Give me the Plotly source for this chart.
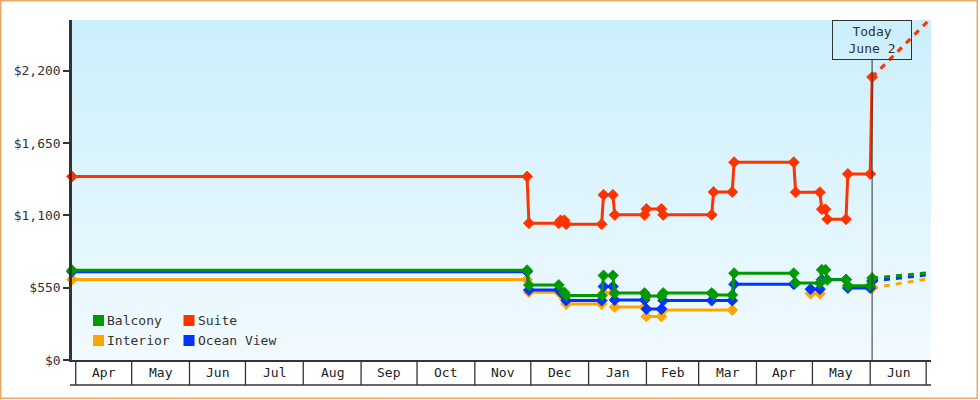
import plotly.graph_objects as go
import pandas as pd

# ---------------- data ----------------
suite_dates = ["2024-03-30", "2024-11-29", "2024-11-30", "2024-12-16", "2024-12-17", "2024-12-19",
               "2024-12-20", "2025-01-08", "2025-01-09", "2025-01-14", "2025-01-15", "2025-01-31",
               "2025-02-01", "2025-02-09", "2025-02-10", "2025-03-08", "2025-03-09", "2025-03-19",
               "2025-03-20", "2025-04-21", "2025-04-22", "2025-05-05", "2025-05-06", "2025-05-08",
               "2025-05-09", "2025-05-19", "2025-05-20", "2025-06-01", "2025-06-02"]
suite_prices = [1395, 1395, 1041, 1041, 1062, 1062,
                1033, 1033, 1256, 1256, 1104, 1104,
                1149, 1149, 1104, 1104, 1278, 1278,
                1504, 1504, 1276, 1276, 1146, 1146,
                1071, 1071, 1415, 1415, 2152]

balcony_dates = ["2024-03-30", "2024-11-29", "2024-11-30", "2024-12-16", "2024-12-19", "2024-12-20",
                 "2025-01-08", "2025-01-09", "2025-01-14", "2025-01-15", "2025-01-31", "2025-02-01",
                 "2025-02-09", "2025-02-10", "2025-03-08", "2025-03-09", "2025-03-19", "2025-03-20",
                 "2025-04-21", "2025-04-22", "2025-05-05", "2025-05-06", "2025-05-08", "2025-05-09",
                 "2025-05-19", "2025-05-20", "2025-06-01", "2025-06-02"]
balcony_prices = [683, 683, 570, 570, 514, 490,
                  490, 643, 643, 509, 509, 486,
                  486, 509, 509, 495, 495, 660,
                  660, 585, 585, 686, 686, 610,
                  610, 565, 565, 623]

ocean_dates = ["2024-03-30", "2024-11-29", "2024-11-30", "2024-12-16", "2024-12-19", "2024-12-20",
               "2025-01-08", "2025-01-09", "2025-01-14", "2025-01-15", "2025-01-31", "2025-02-01",
               "2025-02-09", "2025-02-10", "2025-03-08", "2025-03-19", "2025-03-20", "2025-04-21",
               "2025-04-25", "2025-04-30", "2025-05-05", "2025-05-06", "2025-05-19", "2025-05-20",
               "2025-06-01", "2025-06-02"]
ocean_prices = [672, 672, 532, 532, 488, 452,
                452, 559, 559, 456, 456, 387,
                387, 452, 452, 452, 577, 577,
                None, 539, 539, 612, 612, 547,
                547, 600]

interior_dates = ["2024-03-30", "2024-11-29", "2024-11-30", "2024-12-16", "2024-12-19", "2024-12-20",
                  "2025-01-08", "2025-01-09", "2025-01-14", "2025-01-15", "2025-01-31", "2025-02-01",
                  "2025-02-09", "2025-02-10", "2025-03-19", "2025-04-10", "2025-04-30", "2025-05-05",
                  "2025-05-20", "2025-06-02"]
interior_prices = [612, 612, 516, 516, 470, 425,
                   425, 509, 509, 403, 403, 331,
                   331, 380, 380, None, 505, 505,
                   None, 547]

proj_dates = ["2025-06-02", "2025-07-03 14:00"]
suite_proj = [2152, 2600]
balcony_proj = [623, 665]
ocean_proj = [600, 650]
interior_proj = [547, 622]

series_names = ["Balcony", "Suite", "Interior", "Ocean View"]
y_tick_vals = [0, 550, 1100, 1650, 2200]
y_tick_text = ["$0", "$550", "$1,100", "$1,650", "$2,200"]
x_range = ["2024-03-30", "2025-07-03 14:00"]
y_range = [0, 2586]
today = "2025-06-02"
today_text = "Today<br>June 2"
month_starts = pd.date_range("2024-04-01", "2025-07-01", freq="MS")

# ---------------- style ----------------
W, H = 980, 400
L, R, T, B = 72, 49, 20, 40
PW, PH = W - L - R, H - T - B
FONT = "DejaVu Sans Mono"
INK = "#333333"
colors = {"Balcony": "#009900", "Suite": "#ff3300", "Interior": "#ffa500", "Ocean View": "#0033ff"}


def px_x(px):
    return (px - L) / PW


def px_y(py):
    return (H - B - py) / PH


fig = go.Figure()

series = [
    ("Interior", interior_dates, interior_prices, interior_proj),
    ("Ocean View", ocean_dates, ocean_prices, ocean_proj),
    ("Balcony", balcony_dates, balcony_prices, balcony_proj),
    ("Suite", suite_dates, suite_prices, suite_proj),
]
for name, d, p, proj in series:
    fig.add_trace(go.Scatter(x=proj_dates, y=proj, mode="lines", showlegend=False,
                             line=dict(color=colors[name], width=3, dash="6px,6px"),
                             hoverinfo="skip"))
for name, d, p, proj in series:
    fig.add_trace(go.Scatter(x=d, y=p, mode="lines+markers", name=name, showlegend=False,
                             connectgaps=False, cliponaxis=False,
                             line=dict(color=colors[name], width=3),
                             marker=dict(symbol="diamond", size=8.5, color=colors[name],
                                         line=dict(color=colors[name], width=0.8))))

shapes = []
# gradient background
top_c = (203, 239, 252)
bot_c = (241, 250, 255)
nb = 85
for i in range(nb):
    t = i / (nb - 1)
    c = tuple(round(top_c[k] + (bot_c[k] - top_c[k]) * t) for k in range(3))
    shapes.append(dict(type="rect", xref="paper", yref="paper", layer="below",
                       x0=0, x1=1, y0=1 - (i + 1) / nb - 0.002, y1=1 - i / nb,
                       fillcolor="rgb(%d,%d,%d)" % c, line=dict(width=0)))
# month cells under the axis
for ms in month_starts:
    shapes.append(dict(type="line", xref="x", yref="paper", x0=ms, x1=ms,
                       y0=0, y1=px_y(385), line=dict(color=INK, width=1.3)))
shapes.append(dict(type="line", xref="paper", yref="paper", x0=px_x(70), x1=1,
                   y0=px_y(385), y1=px_y(385), line=dict(color=INK, width=1.5)))
# today line
shapes.append(dict(type="line", xref="x", yref="paper", x0=today, x1=today,
                   y0=0, y1=px_y(60), line=dict(color=INK, width=1)))
# outer frame
shapes.append(dict(type="rect", xref="paper", yref="paper",
                   x0=px_x(0.75), x1=px_x(977.25), y0=px_y(398.25), y1=px_y(0.75),
                   line=dict(color="#e9a964", width=1.5), fillcolor="rgba(0,0,0,0)"))

annotations = []
# month labels
for i in range(len(month_starts) - 1):
    a, b = month_starts[i], month_starts[i + 1]
    mid = a + (b - a) / 2
    annotations.append(dict(x=mid, y=px_y(372.5), xref="x", yref="paper", text=a.strftime("%b"),
                            showarrow=False, xanchor="center", yanchor="middle",
                            font=dict(family=FONT, size=13, color="#222222")))
# today box
annotations.append(dict(x=today, y=1, xref="x", yref="paper", text=today_text, showarrow=False,
                        xanchor="center", yanchor="top", width=78, height=38, borderpad=0,
                        bordercolor=INK, borderwidth=1, bgcolor="rgba(0,0,0,0)",
                        font=dict(family=FONT, size=13, color=INK)))
# manual legend (2 x 2)
leg_pos = {"Balcony": (93, 315), "Suite": (183.5, 315), "Interior": (93, 335), "Ocean View": (183.5, 335)}
for name in series_names:
    sx, sy = leg_pos[name]
    shapes.append(dict(type="rect", xref="paper", yref="paper",
                       x0=px_x(sx), x1=px_x(sx + 11), y0=px_y(sy + 11), y1=px_y(sy),
                       fillcolor=colors[name], line=dict(width=0)))
    annotations.append(dict(x=px_x(sx + 13), y=px_y(sy + 5.5), xref="paper", yref="paper",
                            text=name, showarrow=False, xanchor="left", yanchor="middle", borderpad=0,
                            font=dict(family=FONT, size=13, color=INK)))

fig.update_layout(
    width=W, height=H,
    margin=dict(l=L, r=R, t=T, b=B),
    paper_bgcolor="white",
    plot_bgcolor="#e6f6fe",
    showlegend=False,
    shapes=shapes,
    annotations=annotations,
    font=dict(family=FONT, size=13, color=INK),
    xaxis=dict(type="date", range=x_range, showgrid=False, zeroline=False,
               showline=True, linecolor=INK, linewidth=1.5, showticklabels=False, ticks=""),
    yaxis=dict(range=y_range, tickvals=y_tick_vals, ticktext=y_tick_text, showgrid=False,
               zeroline=False, showline=True, linecolor=INK, linewidth=2.5,
               ticks="outside", ticklen=6, tickwidth=2, tickcolor=INK,
               tickfont=dict(family=FONT, size=13, color=INK)),
)

fig.write_html("out.html")
